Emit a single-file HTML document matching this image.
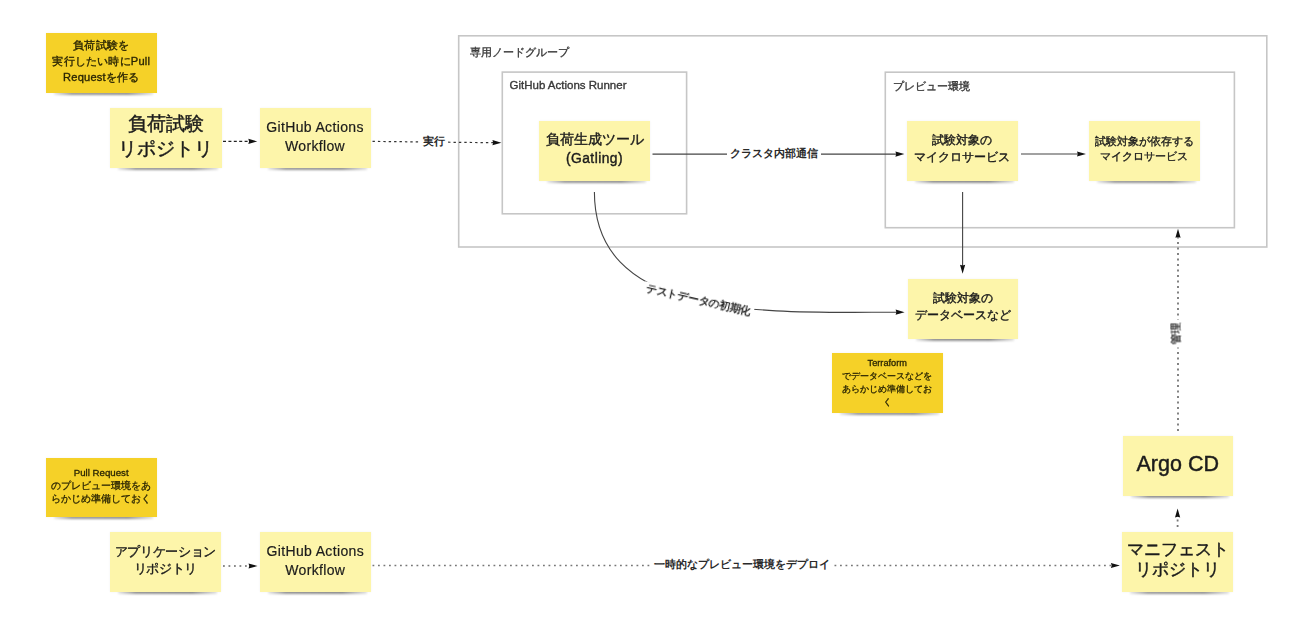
<!DOCTYPE html>
<html><head><meta charset="utf-8">
<style>
html,body{margin:0;padding:0;background:#fff;}
body{width:1300px;height:635px;position:relative;z-index:0;overflow:hidden;font-family:"Liberation Sans",sans-serif;color:#1c1c1c;}
.frame{position:absolute;border:2px solid #cdcdcd;box-sizing:border-box;}
.ft{position:absolute;font-size:11px;line-height:13px;color:#383838;white-space:nowrap;-webkit-text-stroke:0.35px #383838;}
.st{position:absolute;box-sizing:border-box;display:flex;align-items:center;justify-content:center;text-align:center;background:#fdf5aa;}
.st.d{background:#f5d128;color:#2a2503;}
.st{box-shadow:0 0 2px rgba(0,0,0,.06);}
.st::before{content:"";position:absolute;left:8px;right:4px;bottom:-2px;height:3.5px;background:linear-gradient(to right,rgba(0,0,0,.08),rgba(0,0,0,.42) 18%,rgba(0,0,0,.45) 75%,rgba(0,0,0,.1));filter:blur(1.1px);z-index:-1;}
.st span{display:block;white-space:nowrap;}
.lbl{position:absolute;z-index:2;font-size:11px;line-height:13px;font-weight:bold;color:#2a2a2a;white-space:nowrap;background:#fff;padding:0 3px;}
svg{position:absolute;left:0;top:0;}
.wrap{position:absolute;left:0;top:0;width:1300px;height:635px;filter:blur(0.7px);}
</style></head><body><div class="wrap">
<div class="ft" style="left:470px;top:45.5px;">専用ノードグループ</div>
<div class="ft" style="left:509.5px;top:79px;font-size:11.5px;">GitHub Actions Runner</div>
<div class="ft" style="left:893px;top:79.5px;">プレビュー環境</div>
<svg width="1300" height="635" viewBox="0 0 1300 635" style="z-index:1"><g fill="none"><rect x="458.7" y="35.8" width="808.1" height="211.2" stroke="#c6c6c6" stroke-width="1.6"/><rect x="502.3" y="72.1" width="184.3" height="141.7" stroke="#c6c6c6" stroke-width="1.6"/><rect x="885.3" y="72.2" width="349.1" height="155.5" stroke="#c6c6c6" stroke-width="1.6"/>
<path d="M223,141.4 L249.80,141.40" stroke="#222" stroke-width="1.2" stroke-dasharray="3 2.4"/><path d="M0,-2.6 L9,0 L0,2.6 L0.8,0 z" fill="#111" transform="translate(248.30,141.40) rotate(0.00)"/>
<path d="M372.5,141.4 L493.90,142.72" stroke="#333" stroke-width="1.2" stroke-dasharray="2.4 3"/><path d="M0,-2.6 L9,0 L0,2.6 L0.8,0 z" fill="#111" transform="translate(492.40,142.70) rotate(0.62)"/>
<path d="M652.5,154.1 L896.90,154.10" stroke="#444" stroke-width="1.1"/><path d="M0,-2.6 L9,0 L0,2.6 L0.8,0 z" fill="#111" transform="translate(895.40,154.10) rotate(0.00)"/>
<path d="M1021,154 L1078.50,154.00" stroke="#444" stroke-width="1.1"/><path d="M0,-2.6 L9,0 L0,2.6 L0.8,0 z" fill="#111" transform="translate(1077.00,154.00) rotate(0.00)"/>
<path d="M962.6,192 L962.60,266.30" stroke="#444" stroke-width="1.1"/><path d="M0,-2.6 L9,0 L0,2.6 L0.8,0 z" fill="#111" transform="translate(962.60,264.80) rotate(90.00)"/>
<path d="M594.4,192 C594.4,322 769.6,312.2 897.10,312.20" stroke="#444" stroke-width="1.1"/><path d="M0,-2.6 L9,0 L0,2.6 L0.8,0 z" fill="#111" transform="translate(895.60,312.20) rotate(0.00)"/>
<path d="M1178,431 L1178.00,236.30" stroke="#777" stroke-width="1.8" stroke-dasharray="2 3.5"/><path d="M0,-2.6 L9,0 L0,2.6 L0.8,0 z" fill="#111" transform="translate(1178.00,237.80) rotate(-90.00)"/>
<path d="M1177.6,527 L1177.60,516.10" stroke="#777" stroke-width="1.8" stroke-dasharray="2 3.5"/><path d="M0,-2.6 L9,0 L0,2.6 L0.8,0 z" fill="#111" transform="translate(1177.60,517.60) rotate(-90.00)"/>
<path d="M223,566 L250.00,566.00" stroke="#666" stroke-width="1.7" stroke-dasharray="1.8 3.7"/><path d="M0,-2.6 L9,0 L0,2.6 L0.8,0 z" fill="#111" transform="translate(248.50,566.00) rotate(0.00)"/>
<path d="M372.5,565.5 L1112.40,565.50" stroke="#777" stroke-width="1.7" stroke-dasharray="1.8 3.7"/><path d="M0,-2.6 L9,0 L0,2.6 L0.8,0 z" fill="#111" transform="translate(1110.90,565.50) rotate(0.00)"/></g></svg>
<div class="lbl" style="left:420px;top:134.5px;">実行</div>
<div class="lbl" style="left:727px;top:146.5px;">クラスタ内部通信</div>
<div class="lbl" style="left:651px;top:558px;">一時的なプレビュー環境をデプロイ</div>
<div class="lbl" style="left:641.5px;top:292.5px;font-size:10.7px;letter-spacing:-0.3px;transform:rotate(12.8deg);transform-origin:54px 6.5px;">テストデータの初期化</div>
<div class="lbl" style="left:1162px;top:326.5px;font-size:10.5px;font-weight:normal;-webkit-text-stroke:0.3px #2a2a2a;transform:rotate(-90deg);">管理</div>
<div class="st d" style="left:45.5px;top:33px;width:111.5px;height:60px;"><div style="font-size:11.1px;line-height:16px;transform:translateY(-2px);letter-spacing:0.2px;-webkit-text-stroke:0.35px currentColor;"><span>負荷試験を</span><span>実行したい時にPull</span><span>Requestを作る</span></div></div>
<div class="st" style="left:110px;top:108px;width:111.5px;height:60px;"><div style="font-size:18.5px;line-height:25px;transform:translateY(-2px);-webkit-text-stroke:0.45px currentColor;"><span>負荷試験</span><span>リポジトリ</span></div></div>
<div class="st" style="left:259.5px;top:108px;width:111px;height:60px;"><div style="font-size:14px;line-height:19.5px;transform:translateY(-1px);letter-spacing:0.35px;-webkit-text-stroke:0.2px currentColor;"><span>GitHub Actions</span><span>Workflow</span></div></div>
<div class="st" style="left:539px;top:121px;width:111px;height:60px;"><div style="font-size:13.5px;line-height:19.5px;transform:translateY(-2px);-webkit-text-stroke:0.4px currentColor;"><span>負荷生成ツール</span><span style="letter-spacing:0.45px;font-size:13.8px">(Gatling)</span></div></div>
<div class="st" style="left:907.2px;top:120.5px;width:110.5px;height:60px;"><div style="font-size:12.1px;line-height:17px;transform:translateY(-2.2px);-webkit-text-stroke:0.4px currentColor;"><span>試験対象の</span><span>マイクロサービス</span></div></div>
<div class="st" style="left:1088.5px;top:121px;width:111px;height:60px;"><div style="font-size:11.2px;line-height:15px;transform:translateY(-2px);-webkit-text-stroke:0.35px currentColor;"><span>試験対象が依存する</span><span>マイクロサービス</span></div></div>
<div class="st" style="left:908px;top:278.5px;width:110px;height:60px;"><div style="font-size:12.3px;line-height:17px;transform:translateY(-2.3px);-webkit-text-stroke:0.4px currentColor;"><span>試験対象の</span><span>データベースなど</span></div></div>
<div class="st d" style="left:832px;top:353px;width:110.5px;height:60px;"><div style="font-size:9.2px;line-height:12.8px;transform:translateY(0px);-webkit-text-stroke:0.3px currentColor;"><span>Terraform</span><span>でデータベースなどを</span><span>あらかじめ準備してお</span><span>く</span></div></div>
<div class="st" style="left:1122.5px;top:435.7px;width:110.5px;height:60px;"><div style="font-size:21.5px;line-height:26px;transform:translateY(-2px);-webkit-text-stroke:0.45px currentColor;"><span>Argo CD</span></div></div>
<div class="st d" style="left:45.7px;top:457.7px;width:111px;height:59.5px;"><div style="font-size:9.7px;line-height:13px;transform:translateY(-2.2px);-webkit-text-stroke:0.3px currentColor;"><span>Pull Request</span><span>のプレビュー環境をあ</span><span>らかじめ準備しておく</span></div></div>
<div class="st" style="left:109.6px;top:532.3px;width:111.5px;height:59.5px;"><div style="font-size:13px;line-height:17px;transform:translateY(-2px);letter-spacing:-0.3px;-webkit-text-stroke:0.4px currentColor;"><span>アプリケーション</span><span>リポジトリ</span></div></div>
<div class="st" style="left:260px;top:532.3px;width:110.5px;height:59.5px;"><div style="font-size:14px;line-height:19.5px;transform:translateY(-1px);letter-spacing:0.35px;-webkit-text-stroke:0.2px currentColor;"><span>GitHub Actions</span><span>Workflow</span></div></div>
<div class="st" style="left:1122px;top:532px;width:111px;height:60px;"><div style="font-size:17px;line-height:20px;transform:translateY(-2px);-webkit-text-stroke:0.45px currentColor;"><span>マニフェスト</span><span>リポジトリ</span></div></div>
</div></body></html>
